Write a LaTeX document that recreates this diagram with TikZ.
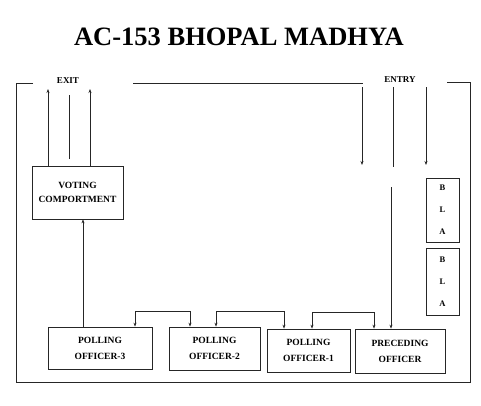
\documentclass[tikz,border=0pt]{standalone}
\usepackage{fontspec}
\setmainfont{Liberation Serif}
\usetikzlibrary{arrows.meta}
\begin{document}
\begin{tikzpicture}[x=1pt,y=-1pt,
  ln/.style={draw=black!85, line width=0.7pt},
  arr/.style={ln, -{Stealth[length=4pt,width=3pt]}},
  conn/.style={ln, {Stealth[length=4pt,width=3pt]}-{Stealth[length=4pt,width=3pt]}},
  boxa/.style={ln, rectangle, inner sep=0pt, align=center, font=\bfseries\fontsize{9.5}{16}\selectfont},
  blabox/.style={ln, rectangle, inner sep=0pt, align=center, font=\bfseries\fontsize{8.5}{22}\selectfont, minimum width=33pt},
  lbl/.style={font=\bfseries\fontsize{9}{10}\selectfont, inner sep=0pt}]
\useasboundingbox (0,0) rectangle (481,405);
% title
\node[font=\bfseries\fontsize{26.5}{30}\selectfont, inner sep=0pt] (title) at (239,37) {AC-153 BHOPAL MADHYA};
% outer frame
\draw[ln] (33,83) -- (16,83) -- (16,382) -- (470,382) -- (470,82) -- (447,82);
\draw[ln] (133,83) -- (363,83);
\node[lbl] (exit) at (68,81) {EXIT};
\node[lbl] (entry) at (400,80) {ENTRY};
% boxes
\node[boxa, minimum width=91pt, minimum height=53pt, font=\bfseries\fontsize{9.5}{14}\selectfont] (vc) at (77.5,192.5) {VOTING\\COMPORTMENT};
\node[boxa, minimum width=104pt, minimum height=42pt] (po3) at (100,348) {POLLING\\OFFICER-3};
\node[boxa, minimum width=91pt, minimum height=43pt] (po2) at (214.5,348.5) {POLLING\\OFFICER-2};
\node[boxa, minimum width=83pt, minimum height=43pt] (po1) at (308.5,350.5) {POLLING\\OFFICER-1};
\node[boxa, minimum width=90pt, minimum height=44pt] (pre) at (400,351) {PRECEDING\\OFFICER};
\node[blabox, minimum height=64pt] (bla1) at (442.5,210) {B\\L\\A};
\node[blabox, minimum height=67pt] (bla2) at (442.5,281.5) {B\\L\\A};
% x positions
\coordinate (x48) at (48,0);
\coordinate (x83) at (83,0);
\coordinate (x90) at (90,0);
\coordinate (x135) at (135,0);
\coordinate (x190) at (190,0);
\coordinate (x216) at (216,0);
\coordinate (x284) at (284,0);
\coordinate (x312) at (312,0);
\coordinate (x374) at (374,0);
\coordinate (x391) at (391,0);
% exit arrows
\coordinate (ex1) at (48,89);
\coordinate (ex2) at (90,89);
\draw[arr] (vc.north -| x48) -- (ex1);
\draw[arr] (vc.north -| x90) -- (ex2);
\coordinate (em1) at (69,159);
\coordinate (em2) at (69,95);
\draw[ln] (em1) -- (em2);
% polling officer 3 to voting
\draw[arr] (po3.north -| x83) -- (vc.south -| x83);
% connectors between officers
\draw[conn] (po2.north -| x190) -- ++(0,-15) -| (po3.north -| x135);
\draw[conn] (po2.north -| x216) -- ++(0,-15) -| (po1.north -| x284);
\draw[conn] (po1.north -| x312) -- ++(0,-16) -| (pre.north -| x374);
% entry lines
\coordinate (en1a) at (362,87);
\coordinate (en1b) at (362,165);
\draw[arr] (en1a) -- (en1b);
\coordinate (en2a) at (393,87);
\coordinate (en2b) at (393,167);
\draw[ln] (en2a) -- (en2b);
\coordinate (en3a) at (426,87);
\coordinate (en3b) at (426,165);
\draw[arr] (en3a) -- (en3b);
\coordinate (en4a) at (391,187);
\draw[arr] (en4a) -- (pre.north -| x391);
\end{tikzpicture}
\end{document}
